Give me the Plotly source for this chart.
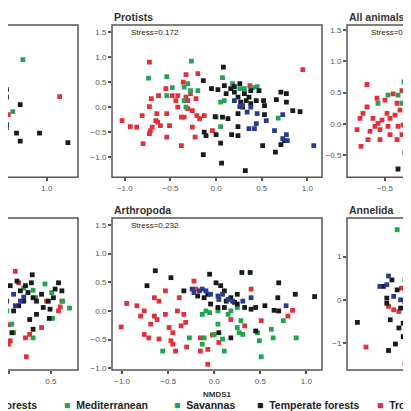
import plotly.graph_objects as go

COL = {"Boreal": "#2b3a8f", "Med": "#2e9e5e", "Sav": "#1fa64d", "Temp": "#1a1a1a", "Trop": "#e0303a"}

# ---------------- Protists (top middle) ----------------
prot_red_x = [-1.03,-0.94,-0.87,-0.81,-0.8,-0.73,-0.72,-0.71,-0.73,-0.65,-0.61,-0.63,-0.54,-0.55,-0.54,-0.51,-0.66,-0.64,-0.7,-0.42,-0.44,-0.42,-0.38,-0.38,-0.36,-0.33,-0.33,-0.31,-0.28,-0.26,-0.26,-0.23,-0.21,-0.2,-0.35,-0.13,-0.18,-0.04,0.95,-0.31,-0.22,-0.48,0.37,-0.73]
prot_red_y = [-0.27,-0.39,-0.4,-0.17,-0.73,-0.53,-0.47,0.17,0.01,-0.13,-0.37,0.23,-0.13,0.37,-0.6,-0.37,-0.27,-0.3,-0.4,0.0,0.13,0.23,-0.77,-0.2,0.5,0.65,0.2,0.13,0.27,-0.4,-0.07,-0.6,-0.17,0.67,-0.2,-0.17,-0.23,-0.47,0.75,-0.03,0.17,0.23,0.43,0.9]
prot_grn_x = [-0.27,-0.54,-0.74,-0.48,-0.54,-0.35,-0.31,-0.28,-0.2,-0.33,-0.35,0.07,0.05,0.09,0.0,0.05,0.18,0.31,0.4,0.45,0.68,0.26]
prot_grn_y = [0.92,0.61,0.58,0.39,0.23,0.4,0.47,0.33,0.33,0.0,0.13,0.59,0.1,0.13,-0.2,-0.39,0.47,0.37,0.39,0.41,-0.22,0.37]
prot_blk_x = [0.08,-0.14,-0.05,0.02,0.09,0.11,0.16,0.2,0.24,0.27,0.31,0.36,0.38,0.44,0.47,0.52,0.53,0.53,0.66,0.71,0.77,0.77,0.84,0.92,-0.01,0.07,0.13,0.17,0.24,0.24,-0.13,-0.11,0.0,0.05,-0.14,0.06,0.32,0.51,0.65,0.71,0.75,0.24,0.29,0.33,0.2,0.26,0.38]
prot_blk_y = [0.8,0.53,0.37,0.35,0.43,0.27,0.37,0.3,0.2,0.1,0.27,0.2,0.07,0.13,0.33,0.13,0.03,-0.15,0.15,0.3,0.27,0.1,-0.07,-0.09,-0.19,-0.2,-0.23,-0.55,-0.57,-0.39,-0.5,-0.57,-0.55,-0.72,-0.95,-1.12,-1.27,-0.77,-0.9,-0.75,-0.67,-0.13,0.0,0.13,0.41,0.47,0.33]
prot_blu_x = [0.2,0.26,0.29,0.34,0.38,0.36,0.42,0.44,0.55,0.64,0.73,0.73,0.78,0.77,1.07,0.45]
prot_blu_y = [0.13,0.01,0.03,-0.1,0.0,-0.43,-0.43,-0.33,-0.27,-0.47,-0.15,-0.63,-0.67,-0.55,-0.77,-0.13]

# ---------------- Arthropoda (bottom middle) ----------------
arth_red_x = [-1.01,-0.95,-0.84,-0.8,-0.76,-0.71,-0.76,-0.69,-0.65,-0.65,-0.6,-0.62,-0.6,-0.53,-0.53,-0.49,-0.47,-0.45,-0.42,-0.45,-0.4,-0.38,-0.36,-0.33,-0.31,-0.3,-0.22,-0.2,-0.15,-0.15,-0.07,-0.07,-0.02,0.05,0.4,0.51,0.8,0.85,0.33,0.18]
arth_red_y = [-0.28,0.13,0.09,-0.09,-0.41,-0.47,0.0,-0.23,-0.09,0.23,0.17,-0.15,-0.49,-0.06,0.35,-0.29,-0.52,-0.58,-0.7,-0.38,0.0,0.23,-0.26,-0.06,-0.2,-0.63,0.52,0.38,-0.47,-0.7,-0.67,-0.93,-0.42,-0.55,0.38,-0.17,-0.09,0.01,-0.26,-0.15]
arth_grn_x = [-0.56,-0.27,-0.13,-0.13,-0.11,-0.09,-0.05,0.0,0.04,0.09,0.11,0.15,0.18,0.25,0.27,0.29,0.31,0.47,0.49,0.51,0.62,0.64,0.75,0.89,0.04,0.25]
arth_grn_y = [-0.7,-0.47,-0.06,-0.58,-0.47,0.0,-0.03,-0.41,-0.23,-0.49,-0.7,-0.06,0.0,-0.29,-0.38,-0.17,-0.41,-0.38,-0.52,-0.8,-0.32,-0.47,-0.17,-0.47,0.0,0.06]
arth_blk_x = [-0.64,-0.73,-0.47,-0.33,-0.18,-0.11,-0.05,0.02,0.07,0.11,0.13,0.18,0.22,0.25,0.3,0.39,0.33,0.4,0.45,0.55,0.65,0.7,0.69,0.7,0.88,1.09,0.45,0.18,0.05,-0.04,0.04,-0.07,0.11,0.25]
arth_blk_y = [0.7,0.44,0.58,0.35,0.26,0.23,0.64,0.49,0.44,0.35,0.17,0.23,0.15,0.12,0.67,0.67,0.06,0.03,0.06,0.09,0.01,0.0,0.23,0.49,0.29,0.25,-0.35,-0.47,-0.38,0.12,0.06,0.29,0.06,0.29]
arth_blu_x = [-0.24,-0.22,-0.16,-0.13,-0.09,-0.04,0.04,0.05,0.09,0.15,0.2,0.4,0.78,0.31]
arth_blu_y = [0.38,0.32,0.35,0.38,0.35,0.29,0.26,0.2,0.29,0.2,0.17,0.23,0.09,0.17]

# ---------------- top-left (cropped panel) ----------------
tl_red_x = [1.14,0.58]; tl_red_y = [0.21,-0.15]
tl_grn_x = [0.74,0.51,0.63,0.53]; tl_grn_y = [0.95,0.0,-0.09,-0.27]
tl_blk_x = [0.56,0.56,0.54,0.71,0.52,0.56,0.67,0.71,0.92,1.23]
tl_blk_y = [0.35,0.2,0.1,0.05,-0.2,-0.35,-0.52,-0.68,-0.52,-0.71]
tl_blu_x = [0.56]; tl_blu_y = [-0.41]

# ---------------- All animals (top right, cropped) ----------------
aa_red_x = [-0.68,-0.78,-0.74,-0.75,-0.72,-0.68,-0.58,-0.62,-0.6,-0.57,-0.55,-0.53,-0.5,-0.48,-0.47,-0.45,-0.42,-0.4,-0.38,-0.37,-0.35,-0.33,-0.32,-0.28,-0.33,-0.65,-0.55,-0.67,-0.45,-0.38]
aa_red_y = [0.63,-0.09,-0.36,0.09,0.17,0.27,0.41,0.09,-0.04,0.01,-0.09,0.06,0.38,0.17,-0.04,-0.17,0.48,0.14,-0.25,-0.04,0.22,0.53,-0.02,-0.04,-0.17,-0.12,-0.25,-0.25,0.09,0.33]
aa_grn_x = [-0.57,-0.47,-0.37,-0.31,-0.33,-0.28,-0.3]
aa_grn_y = [0.33,0.46,0.46,0.67,0.33,0.38,0.53]
aa_blk_x = [-0.3,-0.37,-0.28]; aa_blk_y = [-0.46,-0.72,-0.52]

# ---------------- bottom-left (cropped panel) ----------------
bl_blk_x = [0.28,0.27,0.2,0.1,0.02,0.14,0.23,0.29,0.33,0.39,0.41,0.47,0.49,0.53,0.59,0.63,0.55,0.18,0.12,0.06,-0.06,0.29,0.48,0.25,0.04,0.33]
bl_blk_y = [0.63,0.49,0.44,0.52,0.44,0.35,0.32,0.23,0.17,0.29,0.06,0.17,0.03,0.23,0.49,0.35,0.38,0.17,0.09,0.0,0.06,-0.32,-0.13,-0.15,-0.38,-0.06]
bl_blu_x = [-0.04,0.06,0.14,0.18,-0.02,0.08]; bl_blu_y = [0.35,0.29,0.17,0.24,0.17,0.09]
bl_grn_x = [0.18,0.29,0.32,0.43,0.51,0.64,0.72,0.52,-0.06,0.04,0.06,0.29,-0.02]
bl_grn_y = [0.4,0.36,0.23,0.47,0.32,0.17,0.05,-0.13,-0.12,-0.23,-0.38,-0.47,0.0]
bl_red_x = [0.08,0.12,-0.06,-0.08,0.0,0.02,-0.08,0.0,0.2,0.25,0.21,0.39,0.45,0.59,0.63,0.61]
bl_red_y = [0.69,0.49,-0.06,-0.17,-0.24,-0.52,-0.76,-0.58,-0.47,-0.41,-0.8,-0.29,0.17,0.0,0.17,0.07]

# ---------------- Annelida (bottom right, cropped) ----------------
an_grn_x = [-0.92,-0.83,-0.79]; an_grn_y = [1.62,0.46,-0.29]
an_blk_x = [-0.77,-1.38,-1.02,-0.94,-0.85,-1.08,-1.04,-0.98,-0.92,-0.88,-0.83,-0.79,-1.0,-0.9,-0.85,-1.04]
an_blk_y = [1.04,-0.52,-1.17,-1.02,-0.85,0.31,0.04,0.46,0.23,-0.19,-0.04,0.38,-0.46,-0.65,-0.54,-0.08]
an_red_x = [-1.28,-0.83,-0.78,-1.02,-0.87,-0.81,-0.9,-0.96,-0.77]
an_red_y = [-1.09,-1.46,-0.92,-0.15,0.27,0.15,-0.27,-0.23,0.0]
an_blu_x = [-1.02,-1.12,-1.04,-0.96,-0.88]; an_blu_y = [0.55,0.31,0.35,0.08,0.0]

legend_labels = ["forests", "Mediterranean", "Savannas", "Temperate forests", "Tropical forests"]

W = 419
LEFT_D = [0.0, 70 / W]
MID_D = [104 / W, 314 / W]
RIGHT_D = [339 / W, 1.0]
TOP_D = [0.559, 1.0]
BOT_D = [0.0, 0.4406]

panels = [
    (1, LEFT_D, TOP_D, [0.577, 1.34], [-1.4, 1.64],
     [(tl_red_x, tl_red_y, "Trop"), (tl_grn_x, tl_grn_y, "Med"), (tl_blk_x, tl_blk_y, "Temp"), (tl_blu_x, tl_blu_y, "Boreal")], None, None),
    (2, MID_D, TOP_D, [-1.14, 1.16], [-1.4, 1.64],
     [(prot_red_x, prot_red_y, "Trop"), (prot_grn_x, prot_grn_y, "Med"), (prot_blk_x, prot_blk_y, "Temp"), (prot_blu_x, prot_blu_y, "Boreal")], "Protists", "Stress=0.172"),
    (3, RIGHT_D, TOP_D, [-0.88, -0.08], [-0.85, 1.58],
     [(aa_red_x, aa_red_y, "Trop"), (aa_grn_x, aa_grn_y, "Med"), (aa_blk_x, aa_blk_y, "Temp")], "All animals", "Stress=0.219"),
    (4, LEFT_D, BOT_D, [-0.006, 0.82], [-1.03, 1.62],
     [(bl_red_x, bl_red_y, "Trop"), (bl_grn_x, bl_grn_y, "Sav"), (bl_blk_x, bl_blk_y, "Temp"), (bl_blu_x, bl_blu_y, "Boreal")], None, None),
    (5, MID_D, BOT_D, [-1.11, 1.17], [-1.03, 1.62],
     [(arth_red_x, arth_red_y, "Trop"), (arth_grn_x, arth_grn_y, "Sav"), (arth_blk_x, arth_blk_y, "Temp"), (arth_blu_x, arth_blu_y, "Boreal")], "Arthropoda", "Stress=0.232"),
    (6, RIGHT_D, BOT_D, [-1.5, -0.575], [-1.62, 1.89],
     [(an_red_x, an_red_y, "Trop"), (an_grn_x, an_grn_y, "Sav"), (an_blk_x, an_blk_y, "Temp"), (an_blu_x, an_blu_y, "Boreal")], "Annelida", None),
]

fig = go.Figure()
layout = {}
shapes = []
annotations = []
tickfont = dict(family="Liberation Sans, Arial", size=8, color="#555")
for idx, dx, dy, xr, yr, series, title, stress in panels:
    xa = "x" if idx == 1 else f"x{idx}"
    ya = "y" if idx == 1 else f"y{idx}"
    for sx, sy, key in series:
        fig.add_trace(go.Scatter(x=sx, y=sy, mode="markers", xaxis=xa, yaxis=ya,
                                 marker=dict(symbol="square", size=4.8, color=COL[key]),
                                 showlegend=False, hoverinfo="skip", cliponaxis=True))
    if idx in (1, 2, 5):
        xt = [-1.0, -0.5, 0.0, 0.5, 1.0]
    elif idx == 4:
        xt = [0.0, 0.5]
    elif idx == 3:
        xt = [-0.5]
    else:
        xt = [0.0]
    if idx == 6:
        yt = [-1, 0, 1]; ytt = ["\u22121", "0", "1"]
    else:
        yt = [-1.0, -0.5, 0.0, 0.5, 1.0, 1.5]; ytt = ["\u22121.0", "\u22120.5", "0.0", "0.5", "1.0", "1.5"]
    xtt = [("\u2212" + f"{abs(v):.1f}") if v < 0 else f"{v:.1f}" for v in xt]
    layout["xaxis" if idx == 1 else f"xaxis{idx}"] = dict(
        domain=dx, range=xr, anchor=ya, showgrid=False, zeroline=False, showline=False,
        ticks="outside", ticklen=3, tickwidth=1.5, tickcolor="#555", tickvals=xt, ticktext=xtt,
        tickfont=tickfont, automargin=False)
    layout["yaxis" if idx == 1 else f"yaxis{idx}"] = dict(
        domain=dy, range=yr, anchor=xa, showgrid=False, zeroline=False, showline=False,
        ticks="" if idx in (1, 4) else "outside", showticklabels=idx not in (1, 4),
        ticklen=3, tickwidth=1.5, tickcolor="#555", tickvals=yt, ticktext=ytt,
        tickfont=tickfont, automargin=False)
    x0 = -5 if idx in (1, 4) else 0
    x1 = 5 if idx in (3, 6) else 1
    shapes.append(dict(type="rect", xref=f"{xa} domain", yref=f"{ya} domain",
                       x0=x0, x1=x1, y0=0, y1=1, line=dict(color="#555", width=1.5)))
    if title:
        annotations.append(dict(text=f"<b>{title}</b>", xref=f"{xa} domain", yref=f"{ya} domain",
                                x=0, y=1.0, xanchor="left", yanchor="bottom", showarrow=False,
                                font=dict(family="Liberation Sans, Arial", size=10.5, color="#333")))
    if stress:
        annotations.append(dict(text=stress, xref=f"{xa} domain", yref=f"{ya} domain",
                                x=0.08 if idx in (2, 5) else 0.28, y=0.995, xanchor="left", yanchor="top",
                                showarrow=False,
                                font=dict(family="Liberation Sans, Arial", size=8, color="#222")))

annotations.append(dict(text="<b>NMDS1</b>", xref="x5 domain", yref="paper", x=0.5, y=-0.07,
                        xanchor="center", yanchor="middle", showarrow=False,
                        font=dict(family="Liberation Sans, Arial", size=8, color="#333")))

leg_keys = [None, "Med", "Sav", "Temp", "Trop"]
leg_px = [-8, 54, 164, 247, 367]
for lab, key, px in zip(legend_labels, leg_keys, leg_px):
    txt = f"<b>{lab}</b>" if key is None else f"<span style='color:{COL[key]}'>■</span>  <b>{lab}</b>"
    annotations.append(dict(text=txt, xref="paper", yref="paper", x=px / W, y=-0.101,
                            xanchor="left", yanchor="middle", showarrow=False,
                            font=dict(family="Liberation Sans, Arial", size=10.5, color="#222")))

fig.update_layout(**layout, shapes=shapes, annotations=annotations,
                  width=W, height=419, margin=dict(l=0, r=0, t=17, b=57, autoexpand=False),
                  paper_bgcolor="white", plot_bgcolor="white")
fig.write_html("out.html")
